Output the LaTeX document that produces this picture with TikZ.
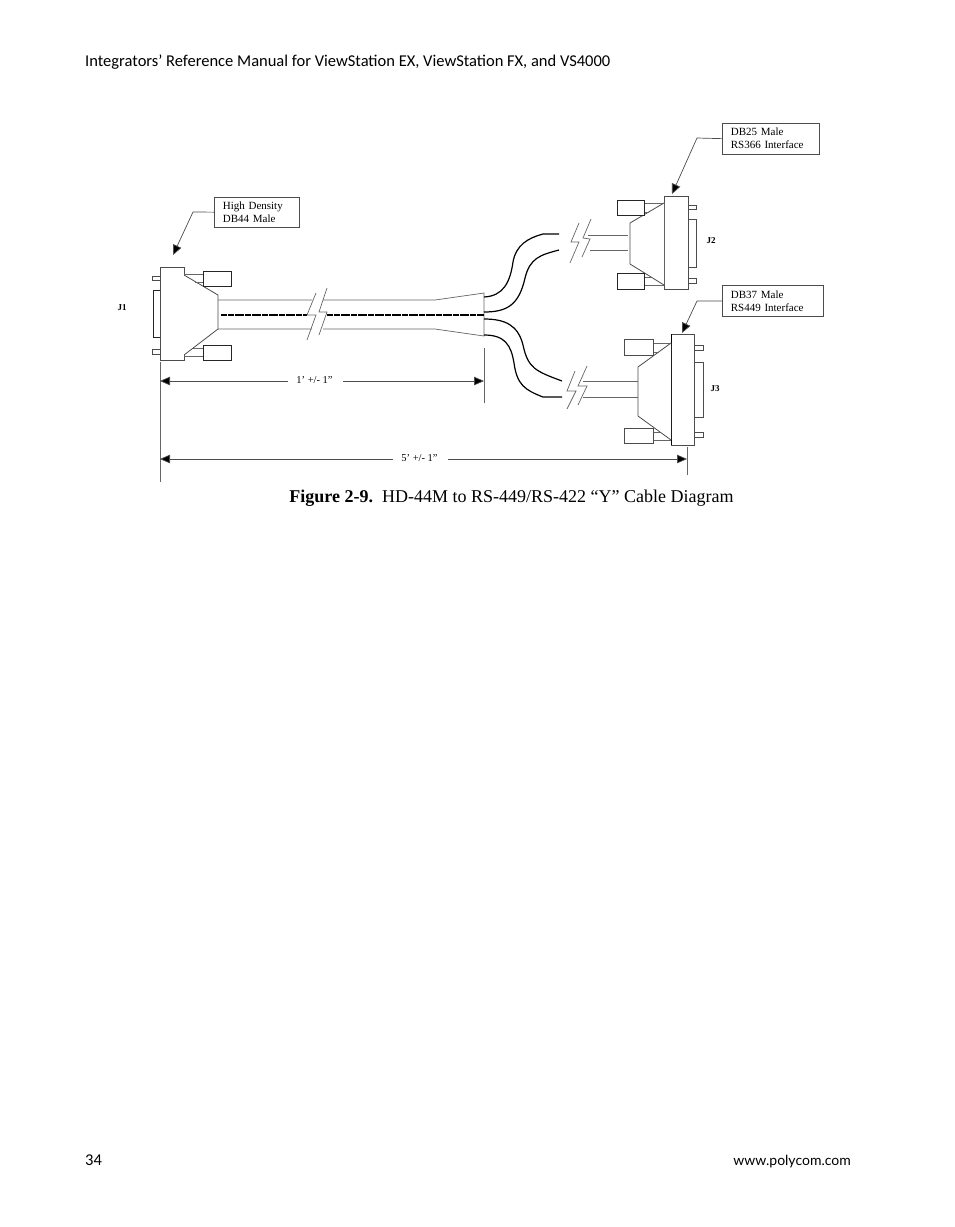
\documentclass[tikz,border=0pt]{standalone}
\usepackage{fontspec}
\setmainfont{Liberation Serif}
\newfontfamily\headfont{Carlito}
\newfontfamily\sitefont{Lato}
\usetikzlibrary{arrows.meta}
\tikzset{
  thin line/.style={draw=black!60,line width=.7pt},
  wire/.style={draw=black,line width=1.2pt},
  shell/.style={draw=black!70,line width=.8pt,fill=white},
  screw/.style={draw=black!85,line width=.9pt,fill=white},
  callout/.style={draw=black!70,line width=.8pt,fill=white,align=left,anchor=north west,font=\fontsize{11}{13}\selectfont,inner xsep=8.5pt,inner ysep=0pt},
  pointer/.style={draw=black!70,line width=.7pt,-{Triangle[length=10pt,width=9pt,fill=black]}},
  dim/.style={draw=black!70,line width=.7pt,-{Triangle[length=10pt,width=8.5pt,fill=black]}},
  dimlabel/.style={font=\fontsize{10.5}{12}\selectfont,inner sep=0pt},
  jack/.style={font=\bfseries\fontsize{9}{10}\selectfont,inner sep=0pt},
  pagetext/.style={font=\headfont\fontsize{16.5}{18}\selectfont,inner sep=0pt}
}
\begin{document}
\begin{tikzpicture}[x=1pt,y=-1pt]
\useasboundingbox[fill=white] (0,0) rectangle (954,1227);

% page header and footer
\node[pagetext,anchor=base west] (head) at (85,66) {Integrators’ Reference Manual for ViewStation EX, ViewStation FX, and VS4000};
\node[pagetext,anchor=base west] (pagenum) at (85,1165) {34};
\node[anchor=base east,inner sep=0pt,font=\sitefont\fontsize{14}{16}\selectfont] (site) at (851,1165) {www.polycom.com};

% caption
\node[font=\fontsize{18}{20}\selectfont,inner sep=0pt,anchor=base] (caption) at (511.5,502) {\textbf{Figure 2-9.}\ \ HD-44M to RS-449/RS-422 “Y” Cable Diagram};

% main cable
\draw[thin line] (218,300) -- (312,300) (323,300) -- (435,300) -- (484,293) -- (484,336) -- (435,329) -- (323,329) (312,329) -- (218,329);
\draw[black,line width=1.5pt,dash pattern=on 3pt off .4pt] (221,315) -- (307,315);
\draw[black,line width=1.5pt,dash pattern=on 3pt off .4pt] (327,315) -- (484,315);
% break mark
\draw[thin line] (316,293) -- (307,315) -- (316,315) -- (307,340);
\draw[thin line] (327,288) -- (319,312) -- (327,312) -- (319,335);

% branch wires
\draw[wire] (484,297) .. controls (503,296) and (510,283) .. (513,262) .. controls (516,245) and (528,238) .. (543,234) -- (559,234);
\draw[wire] (484,312) .. controls (507,312) and (519,305) .. (525,278) .. controls (530,258) and (540,255) .. (559,250);
\draw[wire] (484,319) .. controls (505,319) and (518,325) .. (523,345) .. controls (528,368) and (535,371) .. (562,381);
\draw[wire] (484,335) .. controls (505,335) and (511,345) .. (514,363) .. controls (517,385) and (525,390) .. (543,397) -- (562,397);

% upper leg
\draw[thin line] (588,235) -- (628,235) (590,250) -- (628,250);
\draw[thin line] (579,223) -- (571,242) -- (579,242) -- (570,263);
\draw[thin line] (591,219) -- (583,238) -- (590,239) -- (582,257);
% lower leg
\draw[thin line] (583,381) -- (638,381) (583,397) -- (638,397);
\draw[thin line] (575,371) -- (567,391) -- (576,391) -- (567,409);
\draw[thin line] (587,366) -- (578,386) -- (587,386) -- (578,405);

% J1 connector
\draw[shell] (152,276) rectangle (161,280);
\draw[shell] (152,349) rectangle (161,354);
\draw[screw] (161,290) -- (153,290) -- (153,337) -- (161,337);
\draw[shell] (160.5,267) rectangle (184,360.5);
\draw[shell] (184,275) -- (218,295) -- (218,329) -- (184,355);
\draw[thin line] (184,274) -- (203,274) (195,282) -- (203,282);
\draw[thin line] (193,348) -- (203,348) (184,356) -- (203,356);
\draw[screw] (203,271) rectangle (231,286);
\draw[screw] (203,345) rectangle (231,360.5);

% J2 connector
\draw[shell] (688,205) rectangle (696,209);
\draw[shell] (688,278) rectangle (696,283);
\draw[shell] (688,219) rectangle (696,267);
\draw[shell] (664,196) rectangle (688,289);
\draw[shell] (664,203) -- (630,223) -- (630,264) -- (664,285);
\draw[thin line] (644,203) -- (664,203) (644,212) -- (649,212);
\draw[thin line] (644,277) -- (651,277) (644,285) -- (664,285);
\draw[screw] (617,200) rectangle (644,215);
\draw[screw] (617,273) rectangle (644,289);

% J3 connector
\draw[shell] (694,345) rectangle (703,350);
\draw[shell] (694,432) rectangle (703,437);
\draw[shell] (694,362) rectangle (703,417);
\draw[shell] (671.5,334) rectangle (694,445);
\draw[black,line width=1.1pt] (671.5,334) -- (671.5,445);
\draw[shell] (671,343) -- (638,367) -- (638,416) -- (671,440);
\draw[thin line] (653,343) -- (671,343) (653,352) -- (659,352);
\draw[thin line] (653,432) -- (660,432) (653,440) -- (671,440);
\draw[shell] (624,339) rectangle (653,355);
\draw[shell] (624,428) rectangle (653,443);

% callouts
\node[callout,minimum height=29.5pt,text width=68pt] (boxj1) at (214,197) {High Density\\DB44 Male};
\node[callout,minimum height=30.5pt,text width=80pt] (boxj2) at (722,123) {DB25 Male\\RS366 Interface};
\node[callout,minimum height=31pt,text width=84pt] (boxj3) at (722,285) {DB37 Male\\RS449 Interface};
\draw[pointer] (boxj1.west) -- (193,212) -- (173,255);
\draw[pointer] (boxj2.west) -- (697,138) -- (672,194);
\draw[pointer] (boxj3.west) -- (697,301) -- (682,333);

% jack labels
\node[jack] (j1) at (122,308) {J1};
\node[jack] (j2) at (711,241) {J2};
\node[jack] (j3) at (715,389) {J3};

% dimensions
\draw[thin line] (160,362) -- (160,482);
\draw[thin line] (484,348) -- (484,403);
\draw[thin line] (687,447) -- (687,475);
\node[dimlabel] (lenshort) at (314.5,380.5) {1’ +/- 1”};
\node[dimlabel] (lenlong) at (419.5,458) {5’ +/- 1”};
\coordinate (a1) at (160,381);
\coordinate (a2) at (484,381);
\coordinate (b1) at (160,459);
\coordinate (b2) at (687,459);
\draw[dim] (288,381) -- (a1);
\draw[dim] (343,381) -- (a2);
\draw[dim] (393,459) -- (b1);
\draw[dim] (448,459) -- (b2);

\end{tikzpicture}
\end{document}
